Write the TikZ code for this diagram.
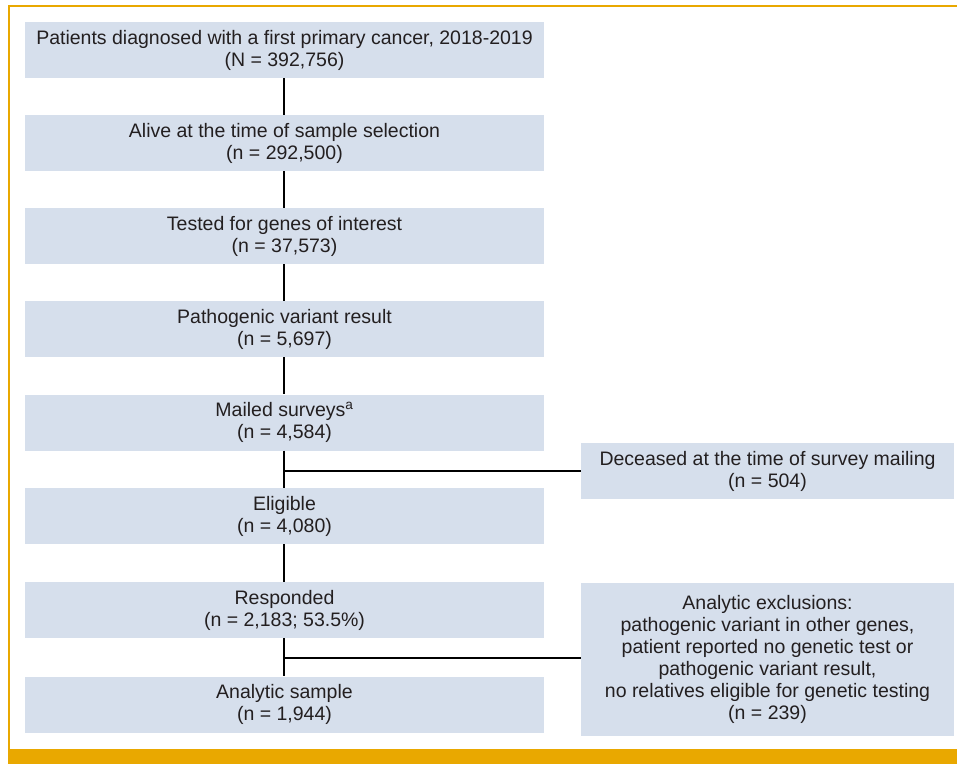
\documentclass[tikz,border=0pt]{standalone}
\usepackage{fontspec}
\setmainfont{Liberation Sans}
\definecolor{boxfill}{HTML}{D6DFEC}
\definecolor{frameor}{HTML}{E9A800}
\definecolor{txt}{HTML}{231F20}
\begin{document}
\begin{tikzpicture}[x=1pt,y=-1pt,
  box/.style={fill=boxfill, draw=none, inner sep=0pt, align=center, text=txt,
    font=\fontsize{19.5}{22}\selectfont, minimum height=56pt},
  leftbox/.style={box, minimum width=519pt},
  rightbox/.style={box, minimum width=373pt},
  conn/.style={draw=black, line width=2.2pt}]
\useasboundingbox (0,0) rectangle (957,764);
% frame
\draw[frameor, line width=1.8pt] (9,5.6) -- (957,5.6);
\draw[frameor, line width=1.8pt] (9,5) -- (9,750);
\fill[frameor] (8,749) rectangle (957,764);
% left column
\node[leftbox] (b1) at (284.5,50) {Patients diagnosed with a first primary cancer, 2018-2019\\(N = 392,756)};
\node[leftbox] (b2) at (284.5,143) {Alive at the time of sample selection\\(n = 292,500)};
\node[leftbox] (b3) at (284.5,236) {Tested for genes of interest\\(n = 37,573)};
\node[leftbox] (b4) at (284.5,329) {Pathogenic variant result\\(n = 5,697)};
\node[leftbox] (b5) at (284.5,422.5) {Mailed surveys\textsuperscript{a}\\(n = 4,584)};
\node[leftbox] (b6) at (284.5,516) {Eligible\\(n = 4,080)};
\node[leftbox] (b7) at (284.5,610) {Responded\\(n = 2,183; 53.5\%)};
\node[leftbox] (b8) at (284.5,704.5) {Analytic sample\\(n = 1,944)};
% right column
\node[rightbox] (d) at (767.5,471) {Deceased at the time of survey mailing\\(n = 504)};
\node[rightbox, minimum height=153pt] (ex) at (767.5,659.5) {Analytic exclusions:\\pathogenic variant in other genes,\\patient reported no genetic test or\\pathogenic variant result,\\no relatives eligible for genetic testing\\(n = 239)};
% connectors
\draw[conn] ([xshift=-0.5pt]b1.south) -- ([xshift=-0.5pt]b2.north);
\draw[conn] ([xshift=-0.5pt]b2.south) -- ([xshift=-0.5pt]b3.north);
\draw[conn] ([xshift=-0.5pt]b3.south) -- ([xshift=-0.5pt]b4.north);
\draw[conn] ([xshift=-0.5pt]b4.south) -- ([xshift=-0.5pt]b5.north);
\draw[conn] ([xshift=-0.5pt]b5.south) -- ([xshift=-0.5pt]b6.north);
\draw[conn] ([xshift=-0.5pt]b6.south) -- ([xshift=-0.5pt]b7.north);
\draw[conn] ([xshift=-0.5pt]b7.south) -- ([xshift=-0.5pt]b8.north);
\coordinate (j1) at ([xshift=-0.5pt]b5.south |- d.west);
\coordinate (j2) at ([xshift=-0.5pt]b7.south |- 0,658);
\draw[conn] (j1) -- (d.west);
\draw[conn] (j2) -- (ex.west |- j2);
\end{tikzpicture}
\end{document}
